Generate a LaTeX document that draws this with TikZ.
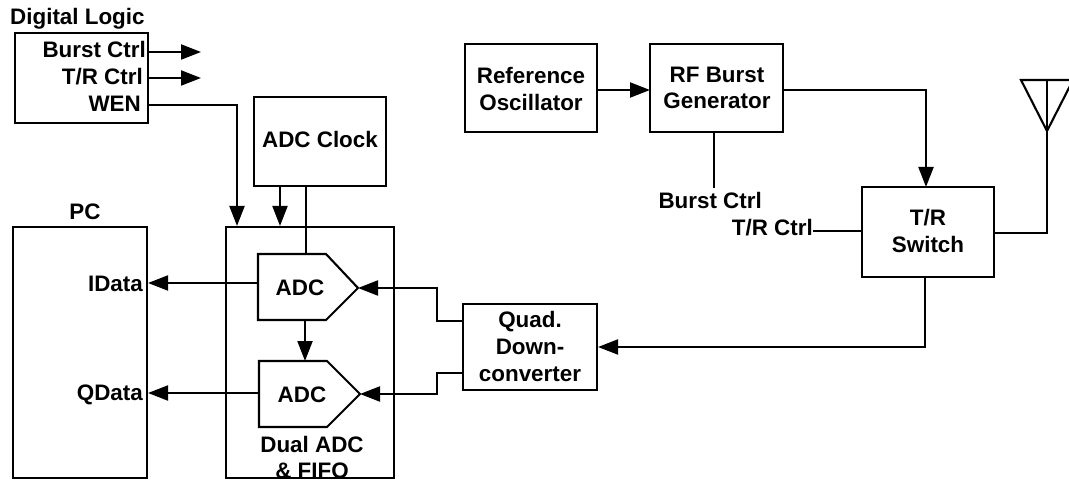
\documentclass[tikz,border=0pt]{standalone}
\usepackage{fontspec}
\setmainfont{Liberation Sans}[BoldFont={Liberation Sans Bold}]
\usetikzlibrary{arrows.meta}
\tikzset{
  wire/.style={line width=2.1pt,line join=miter},
  arr/.style={wire,-{Triangle[length=20pt,width=15pt]},shorten >=0pt},
  blk/.style={draw,line width=2.1pt,rectangle,inner sep=0pt},
  lbl/.style={inner sep=0pt,font=\fontsize{22.4}{24}\selectfont\bfseries,anchor=base},
  lble/.style={lbl,anchor=base east},
  lblw/.style={lbl,anchor=base west}
}
\begin{document}
\begin{tikzpicture}[x=1pt,y=-1pt]
\useasboundingbox (0,0) rectangle (1069,481);
\clip (0,0) rectangle (1069,481);
% blocks
\node[blk,minimum width=133pt,minimum height=90pt] (dl) at (81.5,78) {};
\node[blk,minimum width=132pt,minimum height=89pt] (clk) at (320,141.5) {};
\node[blk,minimum width=134pt,minimum height=251pt] (pc) at (80,352.5) {};
\node[blk,minimum width=168pt,minimum height=251pt] (dual) at (310,352.5) {};
\node[blk,minimum width=134pt,minimum height=86pt] (quad) at (530,347) {};
\node[blk,minimum width=132pt,minimum height=88pt] (ref) at (531,88) {};
\node[blk,minimum width=133pt,minimum height=88pt] (rf) at (716.5,88) {};
\node[blk,minimum width=132pt,minimum height=90pt] (sw) at (928,232) {};
% ADC shapes
\coordinate (a1in) at (358,288);
\coordinate (a2in) at (360,394);
\draw[wire] (258,254) coordinate (a1nw) -- (326,254) -- (a1in) -- (326,320) -- (258,320) coordinate (a1sw) -- cycle;
\draw[wire] (259,361) coordinate (a2nw) -- (327,361) -- (a2in) -- (327,427) -- (259,427) coordinate (a2sw) -- cycle;
% antenna
\coordinate (anttip) at (1047,131);
\coordinate (anttop) at (1047,80);
\draw[wire] (anttip) -- (1021,80) -- (1073,80) -- cycle;
\draw[wire] (anttop) -- (anttip);
% digital logic outputs
\coordinate (bo) at (201,52);
\coordinate (to) at (201,78);
\draw[arr] (dl.east |- bo) -- (bo);
\draw[arr] (dl.east |- to) -- (to);
\coordinate (wenc) at (237,105);
\draw[arr] (dl.east |- wenc) -- (wenc) -- (wenc |- dual.north);
% clock
\coordinate (clka) at (280,186);
\draw[arr] (clka) -- (clka |- dual.north);
\coordinate (clkb) at (306,186);
\draw[wire] (clkb) -- (clkb |- a1nw);
% ADC connections
\coordinate (a1d) at (258,283);
\coordinate (a2d) at (259,393);
\draw[arr] (a1d) -- (a1d -| pc.east);
\draw[arr] (a2d) -- (a2d -| pc.east);
\coordinate (a1b) at (305,320);
\draw[arr] (a1b) -- (a1b |- a2nw);
\coordinate (q1) at (463,321);
\coordinate (q2) at (463,373);
\draw[arr] (q1) -- (437,321) -- (437,288) -- (a1in);
\draw[arr] (q2) -- (437,373) -- (437,394) -- (a2in);
% RF chain
\coordinate (rfin) at (650,90);
\draw[arr] (ref.east |- rfin) -- (rfin);
\coordinate (rfo) at (783,90);
\draw[arr] (rfo) -- (926,90) -- (926 ,187);
\coordinate (bc) at (714,188);
\draw[wire] (rf.south -| bc) -- (bc);
\coordinate (tc) at (813,231);
\draw[wire] (tc) -- (tc -| sw.west);
\coordinate (swo) at (994,233);
\draw[wire] (swo) -- (1047,233) -- (anttip);
\coordinate (swb) at (925,277);
\draw[arr] (swb) -- (925,347) -- (quad.east |- 0,347);
% labels
\node[lblw] (t1) at (10,25) {Digital Logic};
\node[lble] (t2) at (146,58) {Burst Ctrl};
\node[lble] (t3) at (143,85) {T/R Ctrl};
\node[lble] (t4) at (141,112) {WEN};
\node[lbl] (t5) at (320,148) {ADC Clock};
\node[lbl] (t6) at (85,220) {PC};
\node[lble] (t7) at (143,291) {IData};
\node[lble] (t8) at (143,400) {QData};
\node[lbl] (t9) at (300,296) {ADC};
\node[lbl] (t10) at (302,402) {ADC};
\node[lbl] (t11) at (312,452) {Dual ADC};
\node[lbl] (t12) at (312,478) {\&~FIFO};
\node[lbl] (t13) at (530,327) {Quad.};
\node[lbl] (t14) at (530,354) {Down-};
\node[lbl] (t15) at (530,381) {converter};
\node[lbl] (t16) at (531,84) {Reference};
\node[lbl] (t17) at (531,111) {Oscillator};
\node[lbl] (t18) at (717,83) {RF Burst};
\node[lbl] (t19) at (717,109) {Generator};
\node[lble] (t20) at (762,209) {Burst Ctrl};
\node[lble] (t21) at (813,236) {T/R Ctrl};
\node[lbl] (t22) at (928,226) {T/R};
\node[lbl] (t23) at (928,253) {Switch};
\end{tikzpicture}
\end{document}
